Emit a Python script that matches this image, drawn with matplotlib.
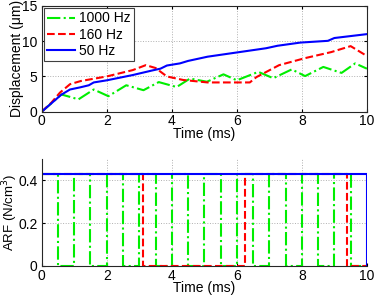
##displacement and ARF for three pulse rates
import matplotlib
matplotlib.use('Agg')
import matplotlib.pyplot as plt

#data
t_1000 = [0, 0.3, 0.6, 0.87, 1.13, 1.6, 2.05, 2.6, 3.13, 3.6, 4.15, 4.56, 5.08,
          5.59, 6.0, 6.66, 7.12, 7.69, 8.1, 8.66, 9.22, 9.64, 10]
d_1000 = [0, 1.2, 2.45, 2.1, 1.75, 3.15, 2.2, 3.75, 3.05, 4.2, 3.5, 4.7, 4.25,
          5.3, 4.45, 5.65, 4.75, 6.0, 5.05, 6.35, 5.5, 6.85, 6.1]

t_160 = [0, 0.3, 0.56, 0.87, 1.2, 2.0, 2.8, 3.2, 3.5, 3.85, 4.35, 5.1, 6.4,
         6.6, 7.3, 8.1, 8.9, 9.5, 10]
d_160 = [0, 1.3, 2.7, 3.9, 4.35, 5.0, 5.9, 6.6, 6.2, 5.0, 4.5, 4.15, 4.15,
         4.9, 6.6, 7.6, 8.45, 9.3, 7.9]

t_50 = [0, 0.3, 0.6, 0.87, 1.18, 1.45, 1.6, 2.0, 2.8, 3.4, 3.65, 3.85, 4.25,
        4.5, 5.1, 6.0, 6.9, 7.25, 7.95, 8.8, 9.0, 10]
d_50 = [0, 1.2, 2.4, 3.15, 3.45, 3.75, 4.15, 4.45, 5.2, 5.85, 6.1, 6.55, 6.85,
        7.2, 7.8, 8.4, 9.0, 9.35, 9.8, 10.05, 10.45, 11.0]

#ARF pulse edges (steps-post)
arf_on = 0.43
e_1000 = [0, 0.5, 1.0, 1.5, 2.0, 2.5, 3.0, 3.5, 4.0, 4.5, 5.0, 5.5, 6.0, 6.5,
          7.0, 7.5, 8.0, 8.5, 9.0, 9.5, 10]
a_1000 = [arf_on, 0, arf_on, 0, arf_on, 0, arf_on, 0, arf_on, 0, arf_on, 0,
          arf_on, 0, arf_on, 0, arf_on, 0, arf_on, 0, 0]
e_160 = [0, 3.125, 6.25, 9.375, 10]
a_160 = [arf_on, 0, arf_on, 0, 0]
e_50 = [0, 10, 10]
a_50 = [arf_on, arf_on, 0]

labels = ['1000 Hz', '160 Hz', '50 Hz']
green = '#00ee00'
red = '#ff0000'
blue = '#0000ff'
lw = 1.5
fs = 10

plt.rcParams['font.family'] = ['Liberation Sans', 'DejaVu Sans']
plt.rcParams['font.size'] = fs
plt.rcParams['xtick.direction'] = 'in'
plt.rcParams['ytick.direction'] = 'in'
plt.rcParams['xtick.major.size'] = 2.5
plt.rcParams['ytick.major.size'] = 2.5
plt.rcParams['axes.linewidth'] = 0.8
plt.rcParams['axes.edgecolor'] = '#262626'

fig = plt.figure(figsize=(3.74, 2.96), dpi=100)
ax1 = fig.add_axes([0.1115, 0.6226, 0.8695, 0.3574])
ax2 = fig.add_axes([0.1115, 0.1014, 0.8695, 0.3615])

grid_kw = dict(color='#b0b0b0', linestyle=':', linewidth=0.7)

#top: displacement
ax1.plot(t_1000, d_1000, '-.', color=green, lw=lw, label=labels[0])
ax1.plot(t_160, d_160, '--', color=red, lw=lw, label=labels[1])
ax1.plot(t_50, d_50, '-', color=blue, lw=lw, label=labels[2])
ax1.set_xlim(0, 10)
ax1.set_ylim(0, 15)
ax1.set_xticks([0, 2, 4, 6, 8, 10])
ax1.set_yticks([0, 5, 10, 15])
ax1.tick_params(top=True, right=True)
ax1.tick_params(axis='x', pad=2)
ax1.tick_params(axis='y', pad=3)
ax1.grid(True, **grid_kw)
ax1.set_xlabel('Time (ms)', labelpad=-1)
ax1.set_ylabel('Displacement (\u03bcm)', labelpad=-1)
leg = ax1.legend(loc='upper left', borderaxespad=0.15, handlelength=2.0,
                 handletextpad=0.3, labelspacing=0.15, borderpad=0.25,
                 fancybox=False, framealpha=1, fontsize=fs)
leg.get_frame().set_edgecolor('#404040')
leg.get_frame().set_linewidth(0.8)

#bottom: ARF
ax2.plot(e_1000, a_1000, '-.', color=green, lw=lw, drawstyle='steps-post')
ax2.plot(e_160, a_160, '--', color=red, lw=lw, drawstyle='steps-post')
ax2.plot(e_50, a_50, '-', color=blue, lw=lw)
ax2.set_xlim(0, 10)
ax2.set_ylim(0, 0.5)
ax2.set_xticks([0, 2, 4, 6, 8, 10])
ax2.set_yticks([0, 0.2, 0.4])
ax2.set_yticklabels(['0', '0.2', '0.4'])
ax2.spines['top'].set_visible(False)
ax2.spines['right'].set_visible(False)
ax2.tick_params(axis='x', pad=2)
ax2.tick_params(axis='y', pad=3)
ax2.grid(True, **grid_kw)
ax2.set_xlabel('Time (ms)', labelpad=-1)
ax2.set_ylabel('ARF (N/cm$^3$)', labelpad=-1, fontsize=9.5)

plt.savefig('out.png', dpi=100)
